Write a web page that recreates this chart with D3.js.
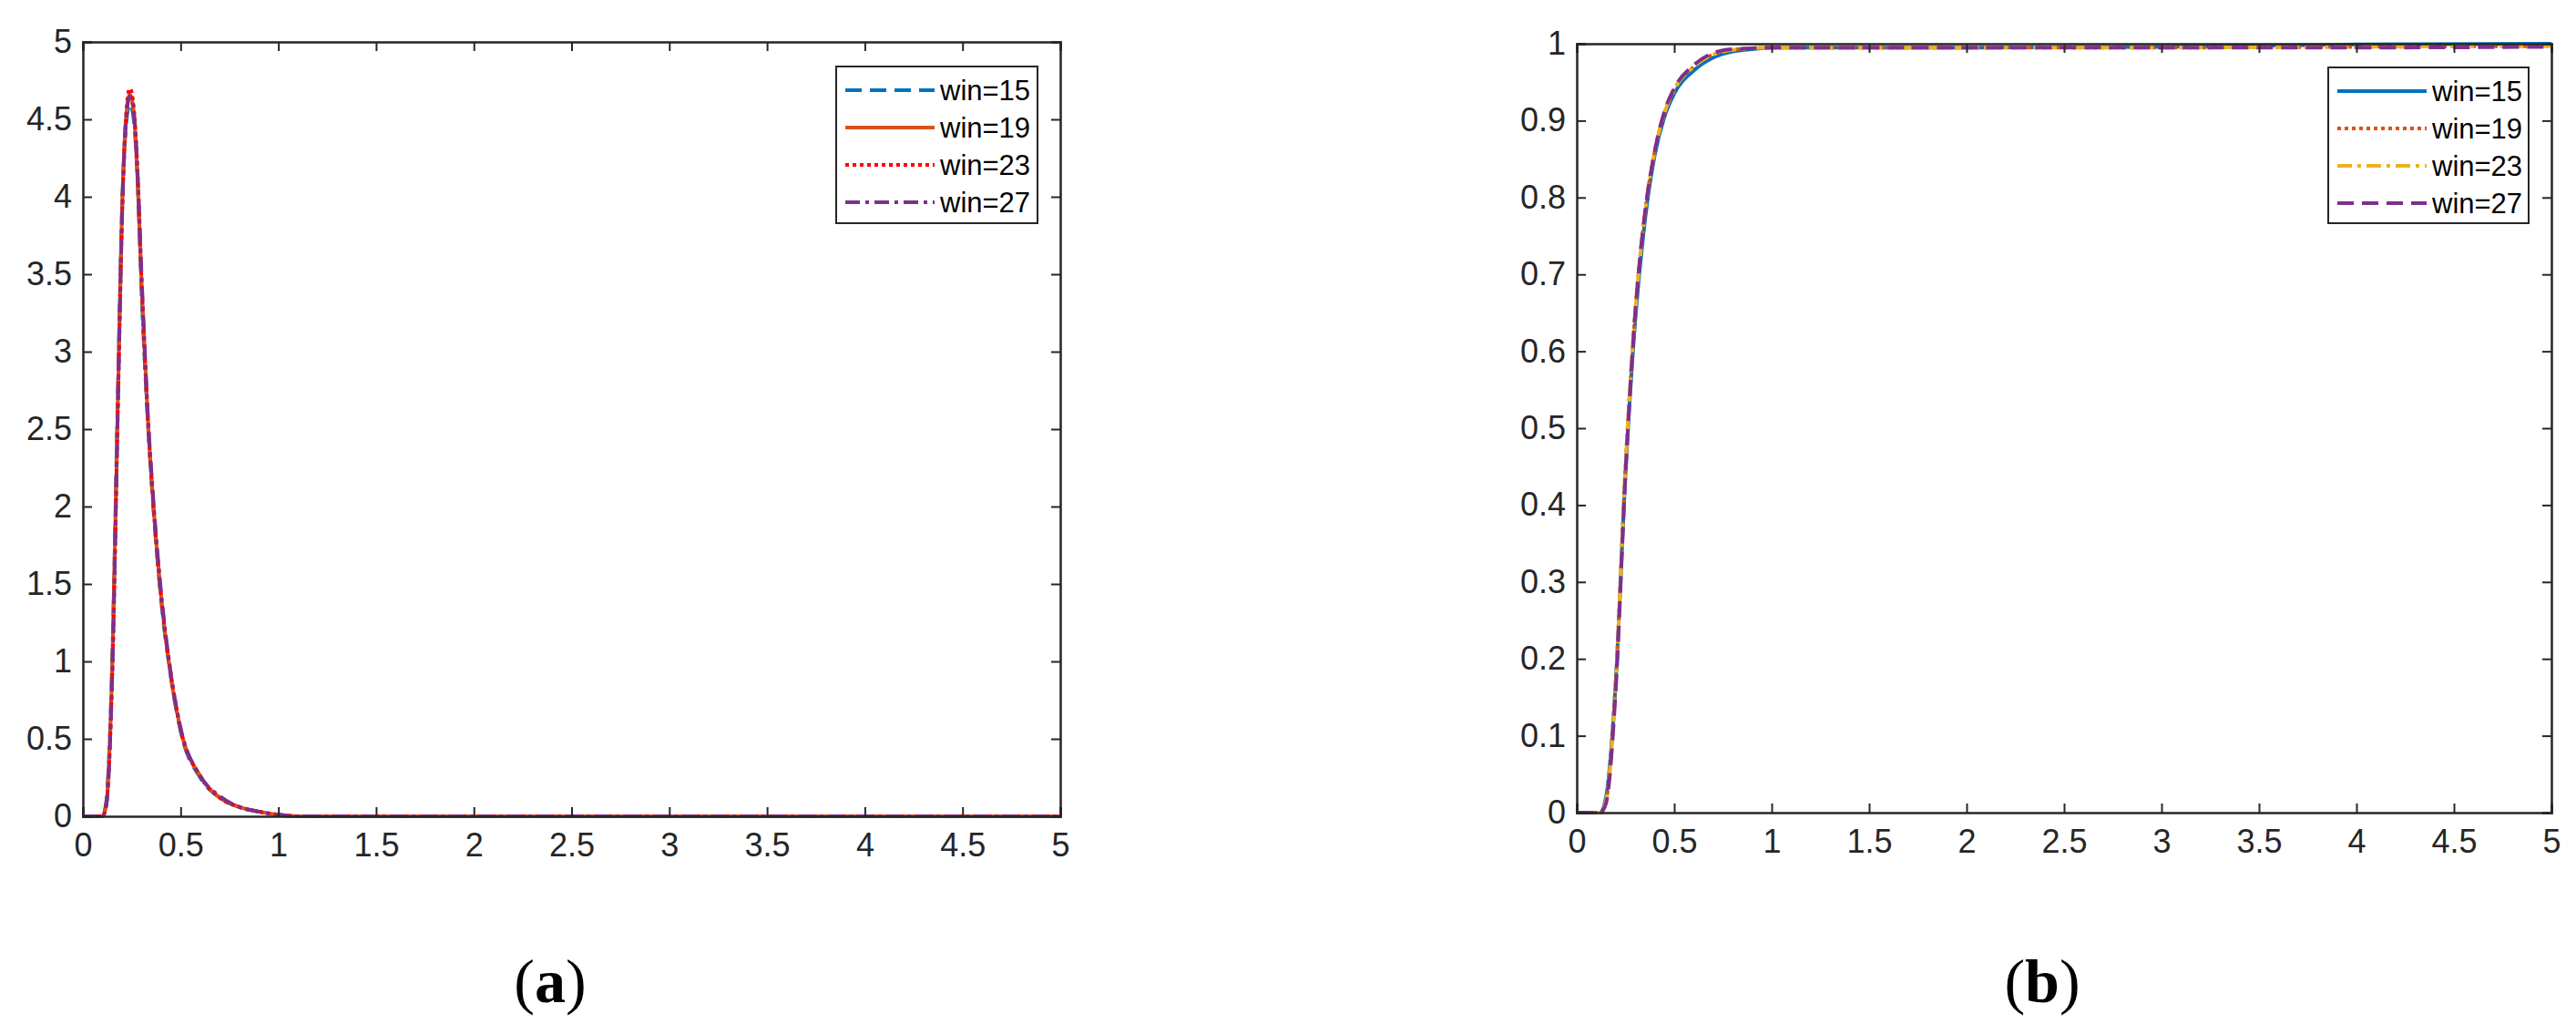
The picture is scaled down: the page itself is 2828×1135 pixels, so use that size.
<!DOCTYPE html>
<html><head><meta charset="utf-8">
<script src="https://cdn.jsdelivr.net/npm/d3@7"></script>
<style>body{margin:0;background:#fff}svg{display:block}</style>
</head><body>
<svg id="c" width="2828" height="1135"></svg>
<script>
// ---- data ----
const xTicks = [0,0.5,1,1.5,2,2.5,3,3.5,4,4.5,5];
const yTicksA = [0,0.5,1,1.5,2,2.5,3,3.5,4,4.5,5];
const yTicksB = [0,0.1,0.2,0.3,0.4,0.5,0.6,0.7,0.8,0.9,1];
const pdfX = [0,0.1,0.12,0.15,0.18,0.2,0.22,0.24,0.26,0.28,0.3,0.33,0.36,0.4,0.45,0.5,0.6,0.7,0.8,0.9,1.0,1.1,2,3,4,5];
const pdfWin15 = [0,0,0.1,1.0,2.8,3.9,4.45,4.6,4.5,4.1,3.4,2.6,2.0,1.4,0.9,0.55,0.25,0.12,0.06,0.03,0.01,0,0,0,0,0];
const pdfWin19 = [0,0,0.08,0.95,2.75,3.9,4.5,4.66,4.55,4.1,3.45,2.62,2.02,1.42,0.9,0.56,0.26,0.12,0.06,0.03,0.01,0,0,0,0,0];
const pdfWin23 = [0,0,0.08,0.9,2.7,3.85,4.5,4.7,4.58,4.15,3.45,2.62,2.02,1.42,0.92,0.56,0.26,0.12,0.06,0.03,0.01,0,0,0,0,0];
const pdfWin27 = [0,0,0.07,0.9,2.7,3.85,4.48,4.65,4.55,4.15,3.5,2.65,2.05,1.45,0.92,0.57,0.26,0.13,0.06,0.03,0.01,0,0,0,0,0];
const cdfX = [0,0.12,0.15,0.2,0.25,0.3,0.35,0.4,0.45,0.5,0.6,0.7,0.8,0.9,1.0,2,3,4,5];
const cdfWin15 = [0,0,0.02,0.17,0.44,0.64,0.77,0.855,0.905,0.935,0.965,0.982,0.99,0.993,0.995,0.995,0.996,0.999,1.0];
const cdfWin19 = [0,0,0.015,0.17,0.45,0.65,0.78,0.86,0.91,0.94,0.97,0.986,0.992,0.994,0.995,0.995,0.995,0.996,0.997];
const cdfWin23 = [0,0,0.015,0.17,0.45,0.65,0.78,0.86,0.91,0.94,0.97,0.986,0.992,0.994,0.995,0.995,0.995,0.996,0.997];
const cdfWin27 = [0,0,0.012,0.16,0.44,0.65,0.78,0.86,0.912,0.942,0.972,0.988,0.993,0.994,0.995,0.995,0.995,0.995,0.996];
const labels = ["win=15","win=19","win=23","win=27"];

const svg = d3.select("#c");
const FONT = "'Liberation Sans', Arial, sans-serif";

function panel(o){
  const g = svg.append("g");
  const x = d3.scaleLinear().domain([0,5]).range([o.left,o.right]);
  const y = d3.scaleLinear().domain(o.ydom).range([o.bottom,o.top]);
  const line = d3.line().curve(d3.curveMonotoneX).x(d=>x(d[0])).y(d=>y(d[1]));
  o.series.forEach((s,i)=>{
    g.append("path").attr("d",line(o.xs.map((v,j)=>[v,s[j]])))
     .attr("fill","none").attr("stroke",o.colors[i]).attr("stroke-width",4)
     .attr("stroke-dasharray",o.dashes[i]);
  });
  g.append("g").attr("transform",`translate(0,${o.bottom})`)
    .call(d3.axisBottom(x).tickValues(xTicks).tickSize(-10).tickPadding(18).tickFormat(d3.format("")));
  g.append("g").attr("transform",`translate(${o.left},0)`)
    .call(d3.axisLeft(y).tickValues(o.yticks).tickSize(-10).tickPadding(12).tickFormat(d3.format("")));
  g.append("g").attr("transform",`translate(0,${o.top})`)
    .call(d3.axisTop(x).tickValues(xTicks).tickSize(-10).tickFormat(""));
  g.append("g").attr("transform",`translate(${o.right},0)`)
    .call(d3.axisRight(y).tickValues(o.yticks).tickSize(-10).tickFormat(""));
  g.selectAll(".domain").attr("stroke","#262626").attr("stroke-width",2.5);
  g.selectAll(".tick line").attr("stroke","#262626").attr("stroke-width",2);
  g.selectAll(".tick text").attr("font-family",FONT).attr("font-size",36).attr("fill","#262626");
  const L = o.legend;
  g.append("rect").attr("x",L.x).attr("y",L.y).attr("width",L.w).attr("height",L.h)
    .attr("fill","#fff").attr("stroke","#262626").attr("stroke-width",2);
  labels.forEach((t,i)=>{
    const yy = L.y+26+i*41;
    g.append("line").attr("x1",L.x+10).attr("x2",L.x+108).attr("y1",yy).attr("y2",yy)
      .attr("stroke",o.colors[i]).attr("stroke-width",4).attr("stroke-dasharray",o.dashes[i]);
    g.append("text").attr("x",L.x+114).attr("y",yy+11).text(t)
      .attr("font-family",FONT).attr("font-size",31).attr("fill","#000");
  });
  const cap = g.append("text").attr("x",o.cap).attr("y",1100).attr("text-anchor","middle")
    .attr("font-family","'Liberation Serif', serif").attr("font-size",68);
  cap.append("tspan").text("(");
  cap.append("tspan").attr("font-weight","bold").text(o.letter);
  cap.append("tspan").text(")");
}

panel({left:91,right:1164,top:46,bottom:896,ydom:[0,5],yticks:yTicksA,xs:pdfX,
  series:[pdfWin15,pdfWin19,pdfWin23,pdfWin27],
  colors:["#0072BD","#D95319","#FF0000","#7E2F8E"],
  dashes:["18,9",null,"4,4","16,6,4,6"],
  legend:{x:918,y:73,w:221,h:172},cap:604,letter:"a"});
panel({left:1731,right:2801,top:48,bottom:892,ydom:[0,1],yticks:yTicksB,xs:cdfX,
  series:[cdfWin15,cdfWin19,cdfWin23,cdfWin27],
  colors:["#0072BD","#D95319","#EDB120","#7E2F8E"],
  dashes:[null,"4,4","16,6,4,6","18,9"],
  legend:{x:2556,y:74,w:220,h:171},cap:2242,letter:"b"});
</script>
</body></html>
